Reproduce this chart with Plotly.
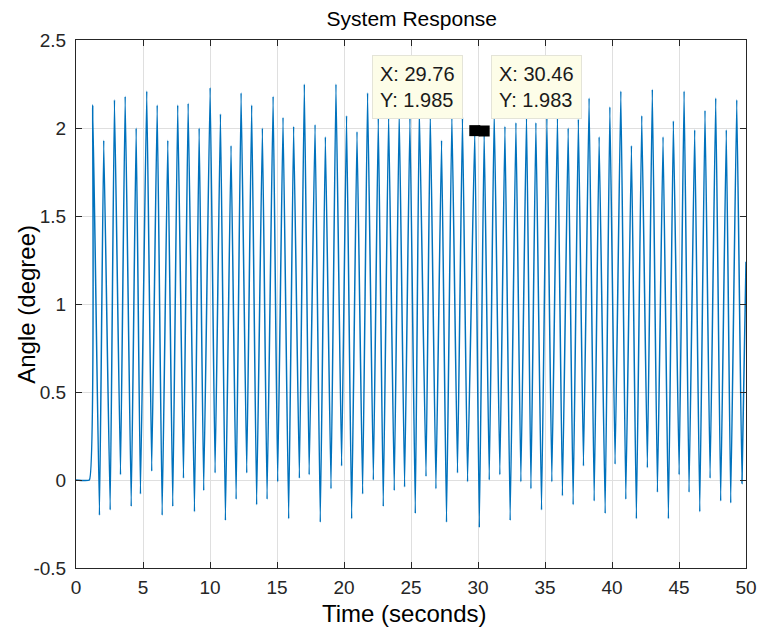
import plotly.graph_objects as go

# ---------------- data ----------------
step_t = [0.0, 1.0]
step_v = [0.0, 0.0]

peak_t = [1.25, 2.07, 2.87, 3.67, 4.49, 5.28, 6.06, 6.85, 7.59, 8.37,
          9.19, 10.01, 10.78, 11.57, 12.32, 13.11, 13.91, 14.71, 15.45, 16.24,
          17.04, 17.84, 18.61, 19.40, 20.19, 20.97, 21.76, 22.56, 23.33, 24.12,
          24.92, 25.62, 26.44, 27.28, 28.05, 28.84, 29.76, 30.46, 31.21, 32.01,
          32.83, 33.62, 34.32, 35.14, 35.93, 36.73, 37.49, 38.29, 39.04, 39.84,
          40.66, 41.45, 42.22, 43.01, 43.81, 44.58, 45.38, 46.17, 46.94, 47.74,
          48.53, 49.31]
peak_v = [2.13, 1.93, 2.16, 2.18, 2.00, 2.21, 2.13, 1.93, 2.13, 2.14,
          2.00, 2.23, 2.08, 1.90, 2.20, 2.13, 2.00, 2.18, 2.06, 2.01,
          2.25, 2.02, 1.95, 2.25, 2.07, 1.98, 2.20, 2.06, 2.08, 2.10,
          2.06, 2.12, 2.09, 1.93, 2.08, 2.06, 1.985, 1.983, 2.10, 2.01,
          2.03, 2.08, 2.03, 2.06, 2.07, 2.00, 2.05, 2.17, 1.95, 2.12,
          2.21, 1.90, 2.07, 2.22, 1.95, 2.04, 2.21, 1.99, 2.10, 2.17,
          1.99, 2.16]

trough_t = [1.75, 2.55, 3.32, 4.12, 4.81, 5.65, 6.43, 7.22, 8.02, 8.84,
            9.53, 10.38, 11.15, 11.95, 12.74, 13.48, 14.26, 15.05, 15.87, 16.67,
            17.40, 18.23, 19.03, 19.82, 20.57, 21.39, 22.19, 22.93, 23.75, 24.52,
            25.32, 26.12, 26.86, 27.65, 28.47, 29.22, 30.10, 30.84, 31.63, 32.40,
            33.20, 33.95, 34.74, 35.51, 36.30, 37.10, 37.87, 38.67, 39.49, 40.23,
            41.03, 41.82, 42.64, 43.39, 44.21, 45.01, 45.75, 46.55, 47.32, 48.11,
            48.86, 49.70]
trough_v = [-0.20, -0.17, 0.03, -0.15, -0.08, 0.05, -0.20, -0.15, 0.01, -0.18,
            -0.06, 0.04, -0.23, -0.11, 0.04, -0.14, -0.11, -0.01, -0.22, 0.01,
            0.03, -0.24, -0.05, 0.08, -0.22, -0.08, 0.00, -0.15, -0.06, -0.04,
            -0.19, 0.02, -0.05, -0.24, 0.04, -0.01, -0.27, 0.00, 0.03, -0.23,
            -0.01, -0.05, -0.17, -0.01, -0.09, -0.14, 0.08, -0.12, -0.19, 0.09,
            -0.11, -0.22, 0.07, -0.07, -0.22, 0.03, -0.07, -0.18, 0.01, -0.12,
            -0.13, -0.02]

end_t = [50.0]
end_v = [1.24]

tip_x = [29.76, 30.46]
tip_y = [1.985, 1.983]

x_ticks = [0, 5, 10, 15, 20, 25, 30, 35, 40, 45, 50]
x_ticklabels = ["0", "5", "10", "15", "20", "25", "30", "35", "40", "45", "50"]
y_ticks = [-0.5, 0, 0.5, 1, 1.5, 2, 2.5]
y_ticklabels = ["-0.5", "0", "0.5", "1", "1.5", "2", "2.5"]

# ---------------- build the trace ----------------
xs = list(step_t)
ys = list(step_v)
for pt, pv, tt, tv in zip(peak_t, peak_v, trough_t, trough_v):
    xs += [pt, tt]
    ys += [pv, tv]
xs += end_t
ys += end_v

FONT = "Liberation Sans, Arial, sans-serif"
AX_COLOR = "#262626"
GRID = "#dfdfdf"

fig = go.Figure()
fig.add_trace(go.Scatter(x=xs, y=ys, mode="lines",
                         line=dict(color="#0072BD", width=1.5, shape="spline",
                                   smoothing=0.3),
                         showlegend=False, hoverinfo="skip"))
fig.add_trace(go.Scatter(x=tip_x, y=tip_y, mode="markers",
                         marker=dict(symbol="square", color="black", size=11,
                                     line=dict(width=0)),
                         showlegend=False, hoverinfo="skip"))

for i, (tx, ty) in enumerate(zip(tip_x, tip_y)):
    left = i == 0
    fig.add_annotation(
        x=tx, y=ty, xref="x", yref="y",
        text=f"X: {tx:.2f}<br>Y: {ty:.3f}",
        showarrow=False, align="left",
        xanchor="right" if left else "left", yanchor="bottom",
        xshift=-12 if left else 7, yshift=12,
        bgcolor="#FDFDE8", bordercolor="#e4e4d8", borderwidth=1, borderpad=7,
        font=dict(family=FONT, size=20, color="#1a1a1a"),
    )

# axis titles
fig.add_annotation(text="Time (seconds)", xref="paper", yref="paper",
                   x=0.49, y=-0.087, xanchor="center", yanchor="middle",
                   showarrow=False,
                   font=dict(family=FONT, size=24, color="black"))
fig.add_annotation(text="Angle (degree)", xref="paper", yref="paper",
                   x=-0.075, y=0.5, xanchor="center", yanchor="middle",
                   textangle=-90, showarrow=False,
                   font=dict(family=FONT, size=24, color="black"))

axis_common = dict(
    showgrid=True, gridcolor=GRID, gridwidth=1, automargin=False,
    zeroline=False, showline=True, linecolor=AX_COLOR, linewidth=1,
    mirror="allticks", ticks="inside", ticklen=6, tickcolor=AX_COLOR,
    ticklabeloverflow="allow",
    tickfont=dict(family=FONT, size=19, color=AX_COLOR),
)

fig.update_layout(
    width=757, height=629,
    margin=dict(l=76, r=11, t=40, b=61),
    paper_bgcolor="white", plot_bgcolor="white",
    title=dict(text="System Response", x=0.544, xanchor="center",
               y=0.97, yanchor="middle", automargin=False,
               font=dict(family=FONT, size=21, color="black")),
    xaxis=dict(range=[0, 50], tickvals=x_ticks, ticktext=x_ticklabels,
               ticklabelstandoff=2, **axis_common),
    yaxis=dict(range=[-0.5, 2.5], tickvals=y_ticks, ticktext=y_ticklabels,
               ticklabelstandoff=5, **axis_common),
)

fig.write_html("out.html")
